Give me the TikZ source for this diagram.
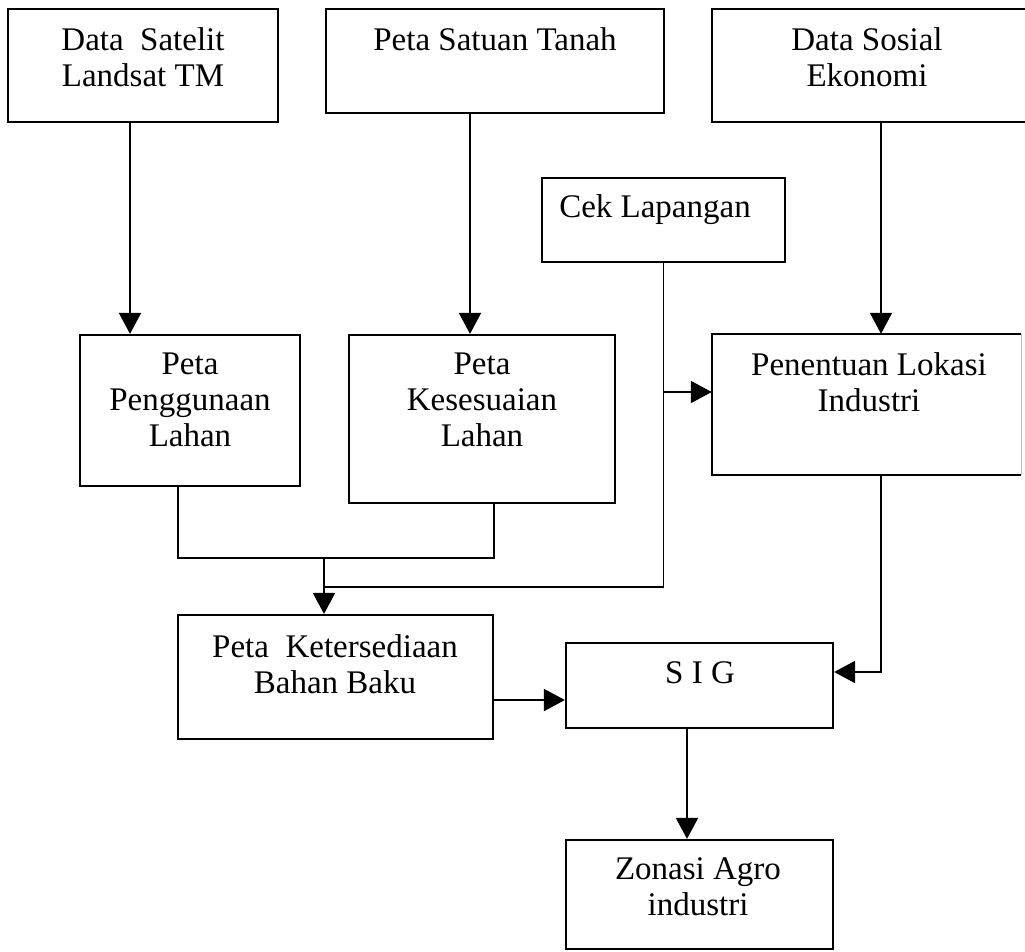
\documentclass[tikz,border=0pt]{standalone}
\usepackage{fontspec}
\setmainfont{Liberation Serif}
\usetikzlibrary{arrows.meta}
\begin{document}
\begin{tikzpicture}[x=1pt,y=-1pt,
  box/.style={draw, line width=2.2pt, inner sep=0pt},
  openbox/.style={inner sep=0pt},
  boxline/.style={line width=2.2pt},
  faint/.style={line width=1.2pt, black!25},
  txt/.style={font=\fontsize{33}{36}\selectfont, align=center, inner sep=0pt},
  conn/.style={line width=1.8pt},
  arr/.style={line width=1.8pt, -{Triangle[length=21pt,width=22pt]}}
]
\useasboundingbox (0,0) rectangle (1025,951);

% boxes
\node[box, minimum width=270pt, minimum height=113pt] (b1) at (143,65.5) {};
\node[box, minimum width=338pt, minimum height=104pt] (b2) at (495,61) {};
\node[box, minimum width=320pt, minimum height=113pt] (b3) at (872,65.5) {};
\node[box, minimum width=243pt, minimum height=84pt] (cek) at (663.5,220) {};
\node[box, minimum width=220pt, minimum height=151pt] (pg) at (190,410.5) {};
\node[box, minimum width=266pt, minimum height=168pt] (ks) at (482,419) {};
\node[openbox, minimum width=309pt, minimum height=141pt] (pl) at (866.5,404.5) {};
\draw[boxline] (pl.north east) -- (pl.north west) -- (pl.south west) -- (pl.south east);
\draw[faint] (pl.north east) -- (pl.south east);
\node[box, minimum width=315pt, minimum height=124pt] (kt) at (335.5,677) {};
\node[box, minimum width=267pt, minimum height=85pt] (sig) at (699.5,685.5) {};
\node[box, minimum width=267pt, minimum height=109pt] (zn) at (699.5,894.5) {};

% texts
\node[txt] (t1) at (143,57) {Data\ \ Satelit\\Landsat TM};
\node[txt] (t2) at (495,39) {Peta Satuan Tanah};
\node[txt] (t3) at (867,57) {Data Sosial\\Ekonomi};
\node[txt] (t4) at (655,210) {Cek Lapangan};
\node[txt] (t5) at (190,400) {Peta\\Penggunaan\\Lahan};
\node[txt] (t6) at (482,400) {Peta\\Kesesuaian\\Lahan};
\node[txt] (t7) at (869,382) {Penentuan Lokasi\\Industri};
\node[txt] (t8) at (335,664) {Peta\ \ Ketersediaan\\Bahan Baku};
\node[txt] (t9) at (700,673) {S I G};
\node[txt] (t10) at (698,887) {Zonasi Agro\\industri};

% helper coordinates
\coordinate (xa1) at (130,0);
\coordinate (xa2) at (470,0);
\coordinate (xa3) at (881,0);
\coordinate (xpg) at (178,0);
\coordinate (xks) at (494,0);
\coordinate (j1) at (324,558);
\coordinate (j2) at (324,587);
\coordinate (ybr) at (0,392);
\coordinate (yks) at (0,700);
\coordinate (ypl) at (0,672);
\coordinate (xsz) at (687,0);

% connectors
\draw[arr] (b1.south -| xa1) -- (pg.north -| xa1);
\draw[arr] (b2.south -| xa2) -- (ks.north -| xa2);
\draw[arr] (b3.south -| xa3) -- (pl.north -| xa3);

\draw[conn] (pg.south -| xpg) -- (j1 -| xpg) -- (j1 -| xks) -- (ks.south -| xks);
\draw[arr] (j1) -- (kt.north -| j1);
\draw[conn] (cek.south) -- (cek.south |- j2) -- (j2);
\draw[arr] (cek.south |- ybr) -- (pl.west |- ybr);

\draw[arr] (kt.east |- yks) -- (sig.west |- yks);
\draw[arr] (pl.south -| xa3) -- (xa3 |- ypl) -- (sig.east |- ypl);
\draw[arr] (sig.south -| xsz) -- (zn.north -| xsz);
\end{tikzpicture}
\end{document}
